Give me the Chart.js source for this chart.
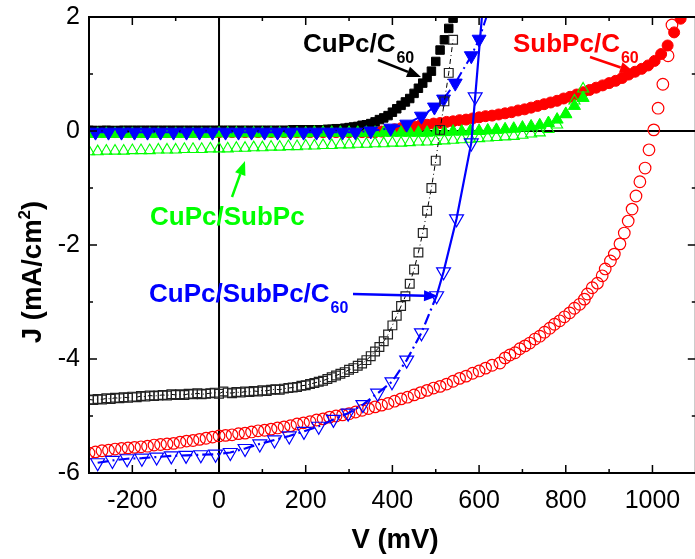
<!DOCTYPE html>
<html lang="en">
<head>
  <meta charset="UTF-8">
  <title>J-V curves</title>
  <!-- Chart.js -->
  <script src="https://cdn.jsdelivr.net/npm/chart.js"></script>
  <style>
    html, body {
      margin: 0;
      padding: 0;
      background: #fff;
      overflow: hidden;
    }
    #wrap {
      width: 695px;
      height: 559px;
      overflow: hidden;
    }
    canvas {
      display: block;
    }
  </style>
</head>
<body>
  <div id="wrap"><canvas id="jvChart" width="705" height="559"></canvas></div>

  <script>
    // Axis ticks
    const xTicks = [-200, 0, 200, 400, 600, 800, 1000];
    const xMinorTicks = [-100, 100, 300, 500, 700, 900];
    const yTicks = [-6, -4, -2, 0, 2];
    const yMinorTicks = [-5, -3, -1, 1];

    // CuPc/C60 (squares), V in mV, J in mA/cm2
    const cuC60V = [
      -300, -290, -280, -270, -260, -250, -240, -230, -220, -210,
      -200, -190, -180, -170, -160, -150, -140, -130, -120, -110,
      -100, -90, -80, -70, -60, -50, -40, -30, -20, -10,
      0, 10, 20, 30, 40, 50, 60, 70, 80, 90,
      100, 110, 120, 130, 140, 150, 160, 170, 180, 190,
      200, 210, 220, 230, 240, 250, 260, 270, 280, 290,
      300, 310, 320, 330, 340, 350, 360, 370, 380, 390,
      400, 410, 420, 430, 440, 450, 460, 470, 480, 490,
      500, 510, 520, 530, 540
    ];
    const cuC60Light = [
      -4.71, -4.72, -4.70, -4.71, -4.69, -4.70, -4.68, -4.69, -4.67, -4.68,
      -4.66, -4.67, -4.65, -4.66, -4.64, -4.65, -4.64, -4.63, -4.64, -4.62,
      -4.63, -4.62, -4.63, -4.61, -4.62, -4.60, -4.62, -4.61, -4.60, -4.59,
      -4.61, -4.57, -4.59, -4.60, -4.58, -4.59, -4.57, -4.58, -4.56, -4.57,
      -4.55, -4.56, -4.54, -4.53, -4.54, -4.52, -4.51, -4.50, -4.49, -4.47,
      -4.46, -4.44, -4.42, -4.40, -4.38, -4.35, -4.32, -4.29, -4.26, -4.23,
      -4.19, -4.16, -4.12, -4.08, -4.02, -3.95, -3.87, -3.79, -3.69, -3.57,
      -3.41, -3.24, -3.07, -2.90, -2.68, -2.43, -2.13, -1.79, -1.40, -1.00,
      -0.52, 0.02, 0.52, 1.02, 1.60
    ];
    const cuC60Dark = [
      0.01, 0.01, 0.00, 0.01, 0.01, 0.01, 0.00, 0.01, 0.01, 0.01,
      0.01, 0.01, 0.01, 0.01, 0.01, 0.01, 0.01, 0.01, 0.01, 0.01,
      0.01, 0.01, 0.01, 0.01, 0.01, 0.01, 0.01, 0.01, 0.01, 0.01,
      0.01, 0.01, 0.01, 0.01, 0.01, 0.01, 0.01, 0.01, 0.01, 0.01,
      0.01, 0.01, 0.01, 0.01, 0.01, 0.01, 0.01, 0.02, 0.02, 0.02,
      0.02, 0.02, 0.02, 0.02, 0.02, 0.03, 0.03, 0.04, 0.04, 0.05,
      0.06, 0.07, 0.08, 0.10, 0.11, 0.13, 0.16, 0.20, 0.23, 0.27,
      0.33, 0.39, 0.45, 0.51, 0.57, 0.66, 0.75, 0.84, 0.94, 1.05,
      1.22, 1.42, 1.60, 1.80, 1.98
    ];

    // SubPc/C60 (circles)
    const subC60DarkV = [
      -300, -285, -270, -255, -240, -225, -210, -195, -180, -165,
      -150, -135, -120, -105, -90, -75, -60, -45, -30, -15,
      0, 15, 30, 45, 60, 75, 90, 105, 120, 135,
      150, 165, 180, 195, 210, 225, 240, 255, 270, 285,
      300, 315, 330, 345, 360, 375, 390, 405, 420, 435,
      450, 465, 480, 495, 510, 525, 540, 555, 570, 585,
      600, 615, 630, 645, 660, 675, 690, 705, 720, 735,
      750, 765, 780, 795, 810, 825, 840, 855, 870, 885,
      900, 915, 930, 945, 960, 975, 990, 1005, 1020, 1035,
      1050, 1065
    ];
    const subC60Dark = [
      -0.02, -0.02, -0.02, -0.02, -0.02, -0.02, -0.02, -0.02, -0.02, -0.02,
      -0.02, -0.02, -0.02, -0.02, -0.02, -0.02, -0.02, -0.02, -0.02, -0.02,
      -0.02, -0.02, -0.02, -0.02, -0.02, -0.02, -0.02, -0.02, -0.02, -0.02,
      -0.02, -0.02, -0.02, -0.02, -0.02, -0.02, -0.02, -0.02, -0.02, -0.02,
      -0.02, -0.02, -0.02, -0.02, -0.02, -0.01, 0.01, 0.03, 0.05, 0.07,
      0.08, 0.10, 0.11, 0.13, 0.14, 0.16, 0.17, 0.19, 0.20, 0.22,
      0.24, 0.26, 0.27, 0.29, 0.31, 0.33, 0.36, 0.38, 0.41, 0.44,
      0.47, 0.50, 0.53, 0.57, 0.60, 0.64, 0.68, 0.72, 0.76, 0.80,
      0.84, 0.88, 0.93, 0.99, 1.04, 1.09, 1.15, 1.23, 1.35, 1.50,
      1.73, 1.97
    ];
    const subC60LightV = [
      -300, -285, -270, -255, -240, -225, -210, -195, -180, -165,
      -150, -135, -120, -105, -90, -75, -60, -45, -30, -15,
      0, 15, 30, 45, 60, 75, 90, 105, 120, 135,
      150, 165, 180, 195, 210, 225, 240, 255, 270, 285,
      300, 315, 330, 345, 360, 375, 390, 405, 420, 435,
      450, 465, 480, 495, 510, 525, 540, 555, 570, 585,
      600, 615, 630,
      648, 660, 671, 683, 694, 706, 717, 729, 740, 751,
      763, 774, 786, 797, 809, 820, 832, 843, 850, 861,
      873, 884, 891, 903, 912, 925, 935, 944, 953, 962,
      971, 983, 992, 1003, 1013, 1024, 1036, 1045
    ];
    const subC60Light = [
      -5.65, -5.63, -5.61, -5.60, -5.58, -5.57, -5.56, -5.55, -5.54, -5.53,
      -5.51, -5.50, -5.49, -5.48, -5.46, -5.44, -5.43, -5.41, -5.39, -5.37,
      -5.35, -5.34, -5.33, -5.31, -5.30, -5.28, -5.26, -5.25, -5.23, -5.21,
      -5.19, -5.17, -5.14, -5.12, -5.10, -5.07, -5.05, -5.02, -5.00, -4.98,
      -4.96, -4.93, -4.90, -4.87, -4.84, -4.81, -4.78, -4.74, -4.70, -4.67,
      -4.63, -4.59, -4.55, -4.51, -4.48, -4.44, -4.39, -4.34, -4.30, -4.25,
      -4.21, -4.16, -4.11,
      -4.07, -3.98, -3.93, -3.89, -3.82, -3.77, -3.72, -3.65, -3.60, -3.53,
      -3.46, -3.39, -3.33, -3.26, -3.19, -3.11, -3.04, -2.95, -2.86, -2.75,
      -2.67, -2.54, -2.42, -2.28, -2.16, -1.98, -1.79, -1.58, -1.37, -1.14,
      -0.89, -0.65, -0.33, 0.02, 0.40, 0.82, 1.32, 1.86
    ];

    // CuPc/SubPc (up triangles)
    const cuSubV = [
      -300, -280, -260, -240, -220, -200, -180, -160, -140, -120,
      -100, -80, -60, -40, -20, 0, 20, 40, 60, 80,
      100, 120, 140, 160, 180, 200, 220, 240, 260, 280,
      300, 320, 340, 360, 380, 400, 420, 440, 460, 480,
      500, 520, 540, 560, 580, 600, 620, 640, 660, 680,
      700, 720, 740, 760, 780, 800, 820, 840
    ];
    const cuSubDark = [
      -0.05, -0.05, -0.05, -0.05, -0.05, -0.05, -0.05, -0.05, -0.05, -0.05,
      -0.05, -0.05, -0.05, -0.05, -0.05, -0.04, -0.04, -0.04, -0.04, -0.04,
      -0.04, -0.04, -0.04, -0.04, -0.04, -0.04, -0.03, -0.03, -0.03, -0.03,
      -0.03, -0.03, -0.03, -0.03, -0.03, -0.03, -0.03, -0.03, -0.03, -0.03,
      -0.02, -0.02, -0.01, -0.01, 0.00, 0.00, 0.01, 0.02, 0.03, 0.04,
      0.06, 0.08, 0.10, 0.14, 0.20, 0.30, 0.44, 0.58
    ];
    const cuSubLight = [
      -0.36, -0.36, -0.35, -0.35, -0.35, -0.34, -0.34, -0.34, -0.33, -0.33,
      -0.33, -0.32, -0.32, -0.32, -0.31, -0.31, -0.31, -0.30, -0.30, -0.29,
      -0.29, -0.28, -0.28, -0.27, -0.27, -0.26, -0.26, -0.25, -0.25, -0.24,
      -0.24, -0.23, -0.23, -0.22, -0.22, -0.21, -0.21, -0.20, -0.19, -0.19,
      -0.18, -0.17, -0.16, -0.15, -0.14, -0.13, -0.12, -0.11, -0.10, -0.09,
      -0.07, -0.05, -0.03, 0.03, 0.11, 0.29, 0.53, 0.74
    ];

    // CuPc/SubPc/C60 (down triangles)
    const triDarkV = [
      -285, -255, -225, -195, -165, -135, -105, -75, -45, -15,
      15, 45, 75, 105, 135, 165, 195, 225, 255, 285,
      315, 350, 396, 433, 467, 497, 518, 545, 582, 600,
      630
    ];
    const triDark = [
      -0.02, -0.02, -0.02, -0.02, -0.02, -0.02, -0.02, -0.02, -0.02, -0.02,
      -0.02, -0.02, -0.02, -0.02, -0.02, -0.02, -0.02, -0.02, -0.02, -0.02,
      -0.02, 0.00, 0.05, 0.12, 0.26, 0.42, 0.56, 0.84, 1.32, 1.61,
      2.30
    ];
    const triLightV = [
      -280, -246, -212, -178, -144, -110, -76, -42, -8, 26,
      60, 94, 128, 162, 196, 230, 264, 298, 332, 366,
      399, 433, 467, 502, 518, 548, 582, 591, 612
    ];
    const triLight = [
      -5.82, -5.78, -5.75, -5.74, -5.72, -5.70, -5.69, -5.68, -5.67, -5.64,
      -5.57, -5.49, -5.42, -5.35, -5.27, -5.18, -5.06, -4.95, -4.80, -4.60,
      -4.40, -4.02, -3.54, -2.89, -2.47, -1.54, -0.21, 0.60, 2.50
    ];

    const FONT = '"Liberation Sans", Arial, sans-serif';
    Chart.defaults.font.family = FONT;
    Chart.defaults.color = '#000';

    function pts(xs, ys) {
      return xs.map((v, i) => ({ x: v, y: ys[i] }));
    }

    // text with optional subscript
    function label(ctx, text, sub, x, y, color) {
      ctx.fillStyle = color;
      ctx.textAlign = 'left';
      ctx.textBaseline = 'alphabetic';
      ctx.font = 'bold 26px ' + FONT;
      ctx.fillText(text, x, y);
      if (sub) {
        const w = ctx.measureText(text).width;
        ctx.font = 'bold 16px ' + FONT;
        ctx.fillText(sub, x + w + 1, y + 11);
      }
    }

    function arrow(ctx, x1, y1, x2, y2, color) {
      const ang = Math.atan2(y2 - y1, x2 - x1);
      const head = 14, half = 5.5;
      const bx = x2 - head * Math.cos(ang), by = y2 - head * Math.sin(ang);
      ctx.strokeStyle = color;
      ctx.fillStyle = color;
      ctx.lineWidth = 2.5;
      ctx.setLineDash([]);
      ctx.beginPath();
      ctx.moveTo(x1, y1);
      ctx.lineTo(bx, by);
      ctx.stroke();
      ctx.beginPath();
      ctx.moveTo(x2, y2);
      ctx.lineTo(bx + half * Math.sin(ang), by - half * Math.cos(ang));
      ctx.lineTo(bx - half * Math.sin(ang), by + half * Math.cos(ang));
      ctx.closePath();
      ctx.fill();
    }

    // zero lines under the data, frame / ticks / labels on top
    const framePlugin = {
      id: 'framePlugin',
      beforeDatasetsDraw(chart) {
        const { ctx, chartArea: a, scales: { x, y } } = chart;
        const x0 = x.getPixelForValue(0), y0 = y.getPixelForValue(0);
        ctx.save();
        ctx.strokeStyle = '#000';
        ctx.lineWidth = 2;
        ctx.beginPath();
        ctx.moveTo(a.left, y0);
        ctx.lineTo(a.right, y0);
        ctx.moveTo(x0, a.top);
        ctx.lineTo(x0, a.bottom);
        ctx.stroke();
        ctx.restore();
      },
      afterDatasetsDraw(chart) {
        const { ctx, chartArea: a, scales: { x, y } } = chart;
        ctx.save();
        ctx.strokeStyle = '#000';
        ctx.lineWidth = 2;
        ctx.strokeRect(a.left, a.top, a.right - a.left, a.bottom - a.top);

        // inward ticks on all four sides
        ctx.lineWidth = 1.5;
        ctx.beginPath();
        [[xTicks, 8], [xMinorTicks, 4]].forEach(([vals, len]) => vals.forEach(v => {
          const px = x.getPixelForValue(v);
          ctx.moveTo(px, a.bottom);
          ctx.lineTo(px, a.bottom - len);
          ctx.moveTo(px, a.top);
          ctx.lineTo(px, a.top + len);
        }));
        [[yTicks, 8], [yMinorTicks, 4]].forEach(([vals, len]) => vals.forEach(v => {
          const py = y.getPixelForValue(v);
          ctx.moveTo(a.left, py);
          ctx.lineTo(a.left + len, py);
          ctx.moveTo(a.right, py);
          ctx.lineTo(a.right - len, py);
        }));
        ctx.stroke();

        // curve labels
        label(ctx, 'CuPc/C', '60', 303, 52, '#000000');
        arrow(ctx, 378, 60, 421, 77, '#000000');
        label(ctx, 'SubPc/C', '60', 513, 52, '#ff0000');
        arrow(ctx, 590, 57, 634, 72, '#ff0000');
        label(ctx, 'CuPc/SubPc', null, 150, 225, '#00ff00');
        arrow(ctx, 232, 197, 245, 161, '#00ff00');
        label(ctx, 'CuPc/SubPc/C', '60', 149, 302, '#0000ff');
        arrow(ctx, 353, 294, 438, 296, '#0000ff');

        // axis titles
        const TITLE = 'bold 27.5px ' + FONT, SUP = 'bold 17px ' + FONT;
        ctx.fillStyle = '#000';
        ctx.font = TITLE;
        ctx.textAlign = 'center';
        ctx.textBaseline = 'alphabetic';
        ctx.fillText('V (mV)', 395, 548);

        ctx.translate(41, 272);
        ctx.rotate(-Math.PI / 2);
        ctx.textAlign = 'left';
        const t1 = 'J (mA/cm', t2 = ')';
        const w1 = ctx.measureText(t1).width, w2 = ctx.measureText(t2).width;
        ctx.font = SUP;
        const ws = ctx.measureText('2').width;
        let sx = -(w1 + ws + w2) / 2;
        ctx.font = TITLE;
        ctx.fillText(t1, sx, 0);
        sx += w1;
        ctx.font = SUP;
        ctx.fillText('2', sx, -11);
        sx += ws;
        ctx.font = TITLE;
        ctx.fillText(t2, sx, 0);
        ctx.restore();
      }
    };

    const dashDot = [11, 4, 2, 4];

    new Chart(document.getElementById('jvChart'), {
      type: 'scatter',
      data: {
        datasets: [
          {
            label: 'CuPc/SubPc/C60 light',
            data: pts(triLightV, triLight),
            order: 1,
            showLine: true,
            borderColor: '#0000ff',
            borderWidth: 2.2,
            segment: {
              borderDash: ctx => (ctx.p0.parsed.y > -3 && ctx.p1.parsed.y > -3) ? [] : dashDot
            },
            pointStyle: 'triangle',
            rotation: 180,
            pointRadius: 8,
            pointBorderWidth: 1.2,
            pointBackgroundColor: 'rgba(0,0,0,0)'
          },
          {
            label: 'SubPc/C60 light',
            data: pts(subC60LightV, subC60Light),
            order: 2,
            borderColor: '#ff0000',
            pointStyle: 'circle',
            pointRadius: 5.8,
            pointBorderWidth: 1.2,
            pointBackgroundColor: 'rgba(0,0,0,0)'
          },
          {
            label: 'CuPc/C60 light',
            data: pts(cuC60V, cuC60Light),
            order: 3,
            showLine: true,
            borderColor: '#000000',
            borderWidth: 1,
            borderDash: [5, 3, 1, 3],
            pointStyle: 'rect',
            pointRadius: 6.2,
            pointBorderWidth: 1.2,
            pointBorderColor: '#222',
            pointBackgroundColor: 'rgba(0,0,0,0)'
          },
          {
            label: 'CuPc/SubPc light',
            data: pts(cuSubV, cuSubLight),
            order: 4,
            borderColor: '#00ff00',
            pointStyle: 'triangle',
            pointRadius: 6.4,
            pointBorderWidth: 1.1,
            pointBackgroundColor: 'rgba(0,0,0,0)'
          },
          {
            label: 'CuPc/SubPc/C60 dark',
            data: pts(triDarkV, triDark),
            order: 5,
            showLine: true,
            borderColor: '#0000ff',
            backgroundColor: '#0000ff',
            borderWidth: 2,
            borderDash: dashDot,
            pointStyle: 'triangle',
            rotation: 180,
            pointRadius: 8,
            pointBorderWidth: 1
          },
          {
            label: 'CuPc/SubPc dark',
            data: pts(cuSubV, cuSubDark),
            order: 6,
            borderColor: '#00ff00',
            backgroundColor: '#00ff00',
            pointStyle: 'triangle',
            pointRadius: 7,
            pointBorderWidth: 1
          },
          {
            label: 'CuPc/C60 dark',
            data: pts(cuC60V, cuC60Dark),
            order: 7,
            borderColor: '#000000',
            backgroundColor: '#000000',
            pointStyle: 'rect',
            pointRadius: 6,
            pointBorderWidth: 1
          },
          {
            label: 'SubPc/C60 dark',
            data: pts(subC60DarkV, subC60Dark),
            order: 8,
            borderColor: '#ff0000',
            backgroundColor: '#ff0000',
            pointStyle: 'circle',
            pointRadius: 5.5,
            pointBorderWidth: 1
          }
        ]
      },
      options: {
        responsive: false,
        animation: false,
        events: [],
        layout: { padding: { top: 17, right: 6, left: 0, bottom: 0 } },
        plugins: {
          legend: { display: false },
          tooltip: { enabled: false }
        },
        scales: {
          x: {
            type: 'linear',
            min: -300,
            max: 1100,
            grid: { display: false, drawTicks: false },
            border: { display: false },
            afterBuildTicks: s => { s.ticks = xTicks.map(v => ({ value: v })); },
            afterFit: s => {
              s.height = 86;
              s.paddingLeft = 0;
              s.paddingRight = 0;
            },
            ticks: {
              font: { size: 25 },
              color: '#000',
              padding: 13,
              maxRotation: 0,
              callback: v => String(v)
            }
          },
          y: {
            type: 'linear',
            min: -6,
            max: 2,
            grid: { display: false, drawTicks: false },
            border: { display: false },
            afterBuildTicks: s => { s.ticks = yTicks.map(v => ({ value: v })); },
            afterFit: s => {
              s.width = 89;
              s.paddingTop = 0;
              s.paddingBottom = 0;
            },
            ticks: {
              font: { size: 25 },
              color: '#000',
              padding: 9,
              callback: v => String(v)
            }
          }
        }
      },
      plugins: [framePlugin]
    });
  </script>
</body>
</html>
